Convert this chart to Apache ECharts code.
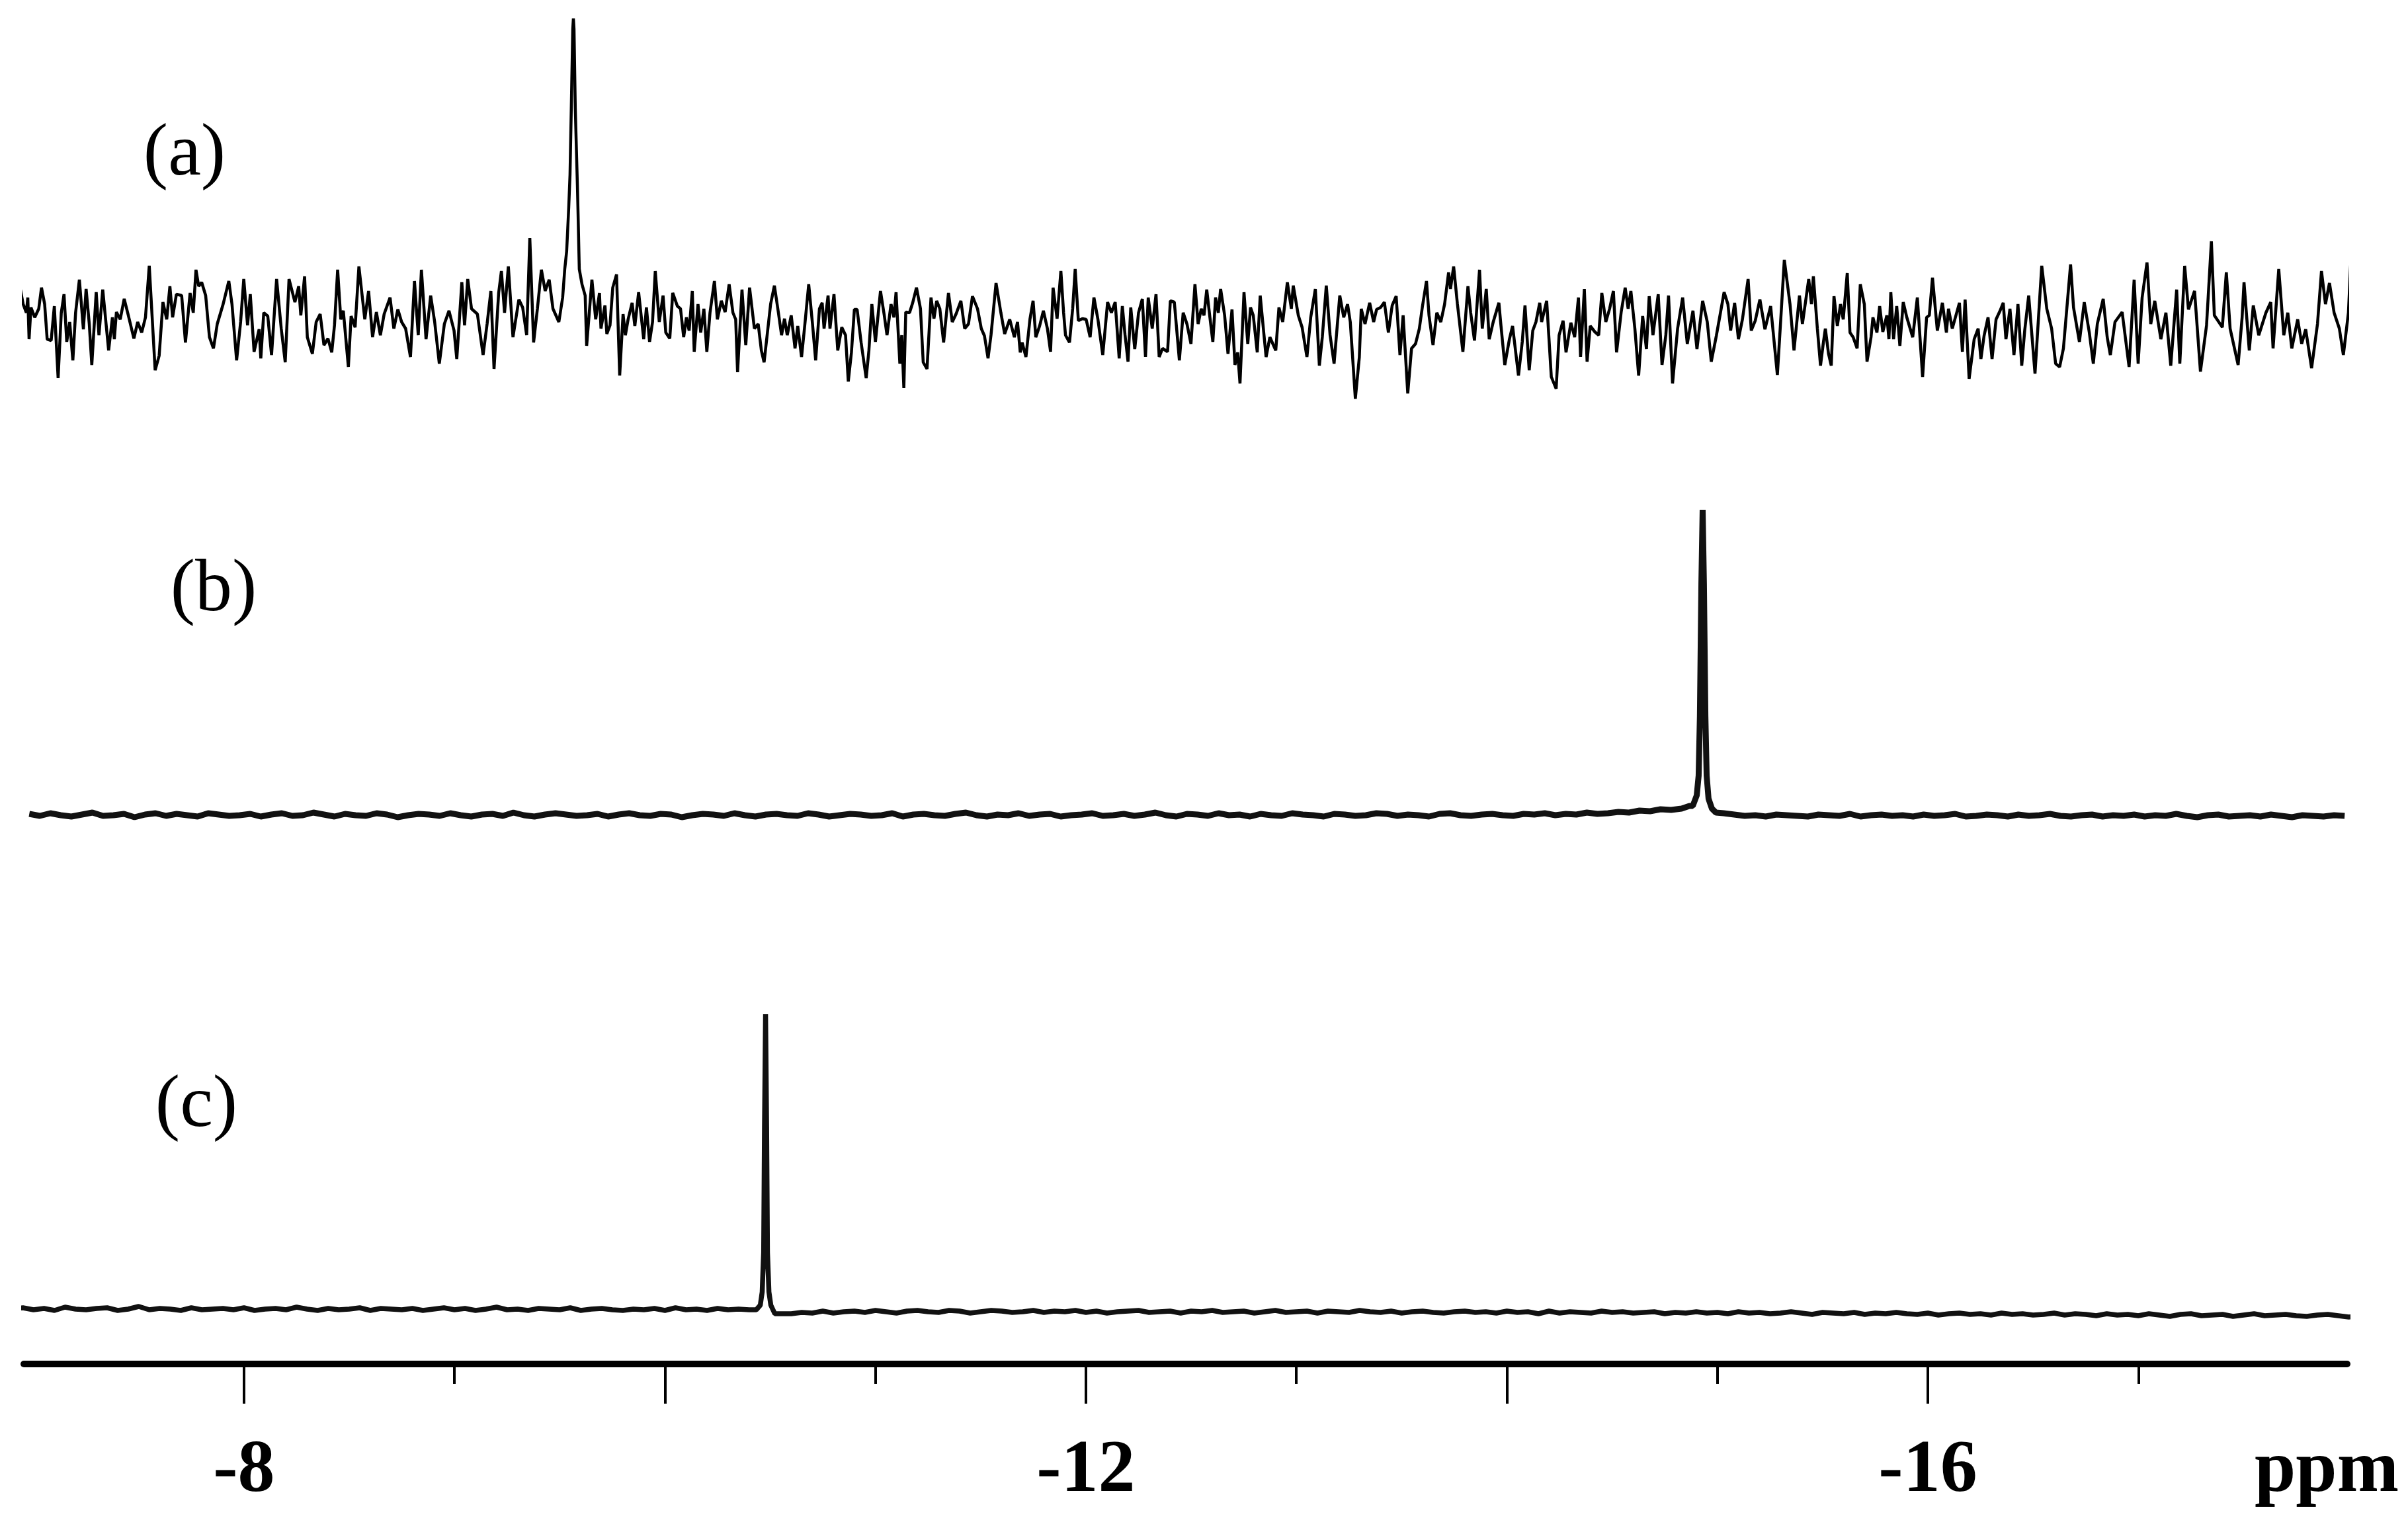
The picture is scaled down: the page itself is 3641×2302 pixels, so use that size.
<!DOCTYPE html>
<html>
<head>
<meta charset="utf-8">
<script src="https://cdn.jsdelivr.net/npm/echarts@6/dist/echarts.min.js"></script>
<style>
html,body{margin:0;padding:0;background:#fff;}
#chart{width:3641px;height:2302px;}
</style>
</head>
<body>
<div id="chart"></div>
<script>
// ---------- axis ----------
const axisMin = -17.992, axisMax = -6.954;          // ppm range of the drawn axis (reversed)
const majorTicks = [-16, -14, -12, -10, -8];
const minorTicks = [-17, -15, -13, -11, -9];
const tickLabels = [-16, -12, -8];
const axisName = 'ppm';
const panelLabels = ['(a)', '(b)', '(c)'];

// ---------- trace (a): [ppm, intensity] ----------
const traceA = [
[-6.896,-56],[-6.905,21],[-6.924,-3],[-6.936,29],[-6.951,4],[-6.966,-9],[-6.973,14],[-6.979,-49],[-6.988,-1],[-7.006,-16],[-7.025,-3],[-7.038,29],[-7.053,4],[-7.065,-49],[-7.084,-51],[-7.099,1],[-7.117,-108],[-7.132,-9],[-7.145,19],[-7.158,-53],[-7.172,-23],[-7.187,-81],[-7.200,-9],[-7.218,41],[-7.237,-34],[-7.250,27],[-7.265,-26],[-7.277,-88],[-7.298,22],[-7.311,-43],[-7.329,26],[-7.357,-66],[-7.375,-16],[-7.384,-49],[-7.394,-8],[-7.412,-19],[-7.431,12],[-7.449,-11],[-7.477,-48],[-7.495,-23],[-7.514,-39],[-7.532,-16],[-7.550,62],[-7.578,-96],[-7.597,-74],[-7.615,7],[-7.633,-19],[-7.648,31],[-7.661,-16],[-7.679,19],[-7.704,17],[-7.722,-54],[-7.744,21],[-7.759,-9],[-7.772,56],[-7.785,31],[-7.799,37],[-7.818,17],[-7.836,-46],[-7.855,-63],[-7.873,-26],[-7.901,4],[-7.928,39],[-7.943,4],[-7.965,-81],[-7.984,-23],[-7.999,42],[-8.017,-28],[-8.030,19],[-8.048,-68],[-8.072,-34],[-8.080,-78],[-8.094,-9],[-8.113,-14],[-8.131,-73],[-8.155,42],[-8.177,-33],[-8.196,-84],[-8.214,42],[-8.242,7],[-8.260,31],[-8.270,-13],[-8.288,46],[-8.301,-46],[-8.325,-71],[-8.343,-23],[-8.362,-11],[-8.380,-58],[-8.399,-48],[-8.417,-69],[-8.430,-28],[-8.445,56],[-8.460,-19],[-8.472,-6],[-8.496,-91],[-8.509,-14],[-8.528,-31],[-8.546,61],[-8.574,-19],[-8.592,24],[-8.611,-46],[-8.629,-8],[-8.648,-43],[-8.666,-11],[-8.694,14],[-8.712,-33],[-8.731,-4],[-8.749,-23],[-8.768,-33],[-8.791,-76],[-8.810,39],[-8.828,-43],[-8.843,56],[-8.865,-49],[-8.887,17],[-8.906,-23],[-8.928,-86],[-8.952,-26],[-8.974,-6],[-8.998,-36],[-9.011,-79],[-9.035,37],[-9.048,-28],[-9.063,42],[-9.081,-3],[-9.109,-11],[-9.136,-73],[-9.155,-26],[-9.173,24],[-9.188,-94],[-9.210,21],[-9.223,54],[-9.238,-9],[-9.256,61],[-9.278,-46],[-9.306,11],[-9.324,-1],[-9.343,-43],[-9.358,104],[-9.376,-54],[-9.394,-3],[-9.413,56],[-9.431,24],[-9.450,41],[-9.468,-3],[-9.496,-23],[-9.514,14],
[-9.524,57],[-9.533,84],[-9.543,151],[-9.549,200],[-9.555,300],[-9.562,420],[-9.565,436],[-9.568,420],[-9.574,300],[-9.584,184],[-9.587,144],[-9.593,57],[-9.606,34],[-9.621,17],[-9.628,-59],
[-9.653,41],[-9.671,-19],[-9.689,21],
[-9.696,-33],[-9.715,2],[-9.724,-41],[-9.739,-28],[-9.752,29],[-9.770,49],[-9.785,-104],[-9.801,-11],[-9.812,-43],[-9.825,-19],[-9.844,6],[-9.857,-29],[-9.875,22],[-9.899,-49],[-9.912,-1],[-9.927,-53],[-9.941,-23],[-9.954,54],[-9.973,-23],[-9.991,17],[-10.004,-39],[-10.023,-48],[-10.037,21],[-10.059,1],[-10.074,-3],[-10.089,-46],[-10.102,-16],[-10.115,-36],[-10.130,24],[-10.139,-68],[-10.157,4],[-10.170,-39],[-10.185,-3],[-10.199,-68],[-10.214,-9],[-10.235,39],[-10.249,-19],[-10.268,9],[-10.286,-8],[-10.305,34],[-10.323,-9],[-10.336,-19],[-10.345,-99],[-10.366,26],[-10.384,-58],[-10.402,29],[-10.425,-33],[-10.443,-26],[-10.458,-66],[-10.471,-84],[-10.489,-33],[-10.502,4],[-10.520,32],[-10.539,-9],[-10.554,-43],[-10.568,-18],[-10.581,-43],[-10.600,-13],[-10.618,-63],[-10.631,-29],[-10.649,-76],[-10.664,-29],[-10.683,34],[-10.701,-26],[-10.716,-81],[-10.734,-3],[-10.747,6],[-10.756,-33],[-10.775,17],[-10.784,-33],[-10.803,19],[-10.821,-66],[-10.840,-31],[-10.858,-43],[-10.871,-113],[-10.886,-69],[-10.900,-4],[-10.913,-4],[-10.932,-54],[-10.956,-108],[-10.969,-66],[-10.983,4],[-11.000,-53],[-11.024,24],[-11.042,-13],[-11.055,-43],[-11.074,4],[-11.088,-16],[-11.098,22],[-11.116,-86],[-11.125,-43],[-11.135,-123],[-11.144,-8],[-11.162,-9],[-11.177,6],[-11.195,29],[-11.214,-3],[-11.227,-84],[-11.245,-94],[-11.264,14],[-11.278,-18],[-11.291,9],[-11.306,-3],[-11.324,-54],[-11.347,21],[-11.365,-23],[-11.383,-11],[-11.406,9],[-11.424,-33],[-11.442,-26],[-11.461,16],[-11.485,-3],[-11.503,-33],[-11.518,-44],[-11.535,-78],[-11.549,-43],[-11.573,36],[-11.596,-9],[-11.614,-41],[-11.638,-19],[-11.660,-46],[-11.675,-23],[-11.688,-69],[-11.697,-54],[-11.715,-76],[-11.734,-19],[-11.749,9],[-11.762,-46],[-11.780,-29],[-11.798,-6],[-11.817,-33],[-11.832,-68],[-11.844,29],[-11.863,-18],[-11.881,54],[-11.894,-9],[-11.903,-43],[-11.922,-54],[-11.937,-3],[-11.949,57],[-11.964,-21],[-11.983,-18],[-12.001,-19],[-12.020,-46],[-12.038,14],[-12.057,-19],[-12.080,-73],[-12.103,7],[-12.121,-9],[-12.139,7],[-12.158,-78],[-12.173,1],[-12.186,-43],[-12.200,-83],[-12.213,-1],[-12.232,-64],[-12.250,-9],[-12.268,12],[-12.283,-76],[-12.296,14],[-12.315,-33],[-12.333,19],[-12.348,-76],[-12.364,-63],[-12.388,-68],[-12.401,9],[-12.420,7],[-12.444,-81],[-12.462,-9],[-12.480,-26],[-12.499,-56],[-12.518,34],
[-12.533,-26],[-12.548,-3],[-12.561,-13],[-12.574,26],[-12.589,-16],[-12.603,-53],[-12.616,14],[-12.629,-9],[-12.640,27],[-12.659,-13],[-12.675,-71],[-12.694,-4],[-12.708,-88],[-12.721,-69],[-12.732,-116],[-12.751,22],[-12.769,-56],[-12.782,-1],[-12.795,-13],[-12.814,-69],[-12.828,17],[-12.856,-76],[-12.874,-46],[-12.902,-66],[-12.917,-1],[-12.935,-23],[-12.957,37],[-12.976,-3],[-12.985,32],[-13.009,-13],[-13.027,-31],[-13.050,-76],[-13.068,-16],[-13.090,27],[-13.109,-89],[-13.123,-46],[-13.142,32],[-13.160,-43],[-13.179,-86],[-13.206,17],[-13.225,-16],[-13.243,4],[-13.256,-23],[-13.280,-139],[-13.299,-76],[-13.308,-3],[-13.326,-26],[-13.348,6],[-13.367,-23],[-13.381,-4],[-13.400,-1],[-13.418,7],[-13.437,-39],[-13.455,2],[-13.474,16],[-13.492,-73],[-13.507,-13],[-13.529,-131],[-13.547,-63],[-13.566,-56],[-13.584,-33],[-13.599,1],[-13.618,39],[-13.630,-13],[-13.649,-58],[-13.667,-9],[-13.686,-23],[-13.704,4],[-13.723,52],[-13.732,27],[-13.747,61],[-13.765,4],[-13.791,-68],[-13.815,31],[-13.828,-9],[-13.846,-51],[-13.870,56],[-13.883,-33],[-13.902,27],[-13.916,-49],[-13.935,-23],[-13.962,6],[-13.972,-29],[-13.990,-88],[-14.012,-49],[-14.027,-29],[-14.055,-104],[-14.073,-53],[-14.086,2],[-14.106,-96],[-14.123,-36],[-14.138,-23],[-14.156,6],[-14.165,-23],[-14.189,9],[-14.211,-106],[-14.234,-124],[-14.248,-43],[-14.267,-21],[-14.281,-69],[-14.304,-24],[-14.322,-46],[-14.340,14],[-14.350,-76],[-14.368,27],[-14.381,-83],[-14.396,-29],[-14.418,-38],[-14.436,-43],[-14.451,21],[-14.470,-23],[-14.488,-3],[-14.506,24],[-14.521,-69],[-14.543,-8],[-14.562,29],[-14.576,-3],[-14.589,24],[-14.608,-33],[-14.626,-104],[-14.645,-14],[-14.663,-64],[-14.676,16],[-14.694,-43],[-14.719,19],[-14.737,-88],[-14.755,-43],[-14.768,17],[-14.787,-116],[-14.811,-33],[-14.835,14],[-14.857,-56],[-14.884,-6],[-14.903,-64],[-14.930,9],[-14.952,-23],[-14.971,-83],[-14.995,-44],[-15.032,22],[-15.050,4],[-15.063,-36],[-15.082,6],[-15.100,-49],[-15.119,-19],[-15.146,42],[-15.161,-36],[-15.180,-21],[-15.202,11],[-15.226,-34],[-15.253,1],[-15.285,-103],[-15.303,-9],[-15.318,71],[-15.345,4],[-15.364,-66],
[-15.390,17],[-15.404,-26],[-15.434,42],[-15.447,4],[-15.456,46],[-15.475,-33],[-15.490,-89],[-15.504,-53],[-15.513,-33],[-15.528,-71],[-15.541,-89],[-15.554,16],[-15.570,-29],[-15.585,4],[-15.598,-19],[-15.617,51],[-15.630,-39],[-15.645,-46],[-15.664,-63],[-15.679,34],[-15.698,4],[-15.711,-83],[-15.730,-46],[-15.739,-16],[-15.758,-39],[-15.771,1],[-15.786,-38],[-15.805,-13],[-15.815,-49],[-15.824,22],[-15.837,-49],[-15.852,1],[-15.867,-59],[-15.883,7],[-15.900,-16],[-15.928,-46],[-15.950,14],[-15.975,-106],[-15.994,-16],[-16.007,-13],[-16.022,44],[-16.045,-36],[-16.069,6],[-16.088,-39],[-16.098,-3],[-16.116,-33],[-16.150,6],[-16.164,-68],[-16.177,11],[-16.196,-109],[-16.220,-49],[-16.239,-33],[-16.252,-79],[-16.267,-44],[-16.286,-16],[-16.305,-79],[-16.324,-19],[-16.343,-6],[-16.358,6],[-16.371,-49],[-16.390,-3],[-16.409,-73],[-16.428,4],[-16.446,-89],[-16.460,-36],[-16.479,17],[-16.509,-101],[-16.541,62],[-16.565,-3],[-16.588,-33],[-16.607,-86],[-16.626,-91],[-16.644,-63],[-16.678,64],[-16.692,-1],[-16.720,-53],[-16.743,7],[-16.767,-39],[-16.786,-86],[-16.805,-26],[-16.833,12],[-16.852,-46],[-16.867,-73],[-16.889,-23],[-16.923,-8],[-16.956,-91],[-16.980,41],[-16.999,-86],[-17.018,14],[-17.041,67],[-17.059,-26],[-17.078,9],[-17.107,-49],[-17.131,-9],[-17.154,-89],[-17.182,26],[-17.197,-86],[-17.220,62],[-17.238,-4],[-17.267,24],[-17.295,-98],[-17.324,-28],[-17.347,99],[-17.361,-13],[-17.399,-31],[-17.418,52],[-17.436,-33],[-17.474,-88],[-17.493,-16],[-17.502,37],[-17.527,-66],[-17.546,2],[-17.572,-43],[-17.606,-9],[-17.629,7],[-17.640,-63],[-17.667,57],[-17.691,-43],[-17.710,-9],[-17.729,-63],[-17.757,-19],[-17.776,-56],[-17.795,-34],[-17.823,-93],[-17.851,-26],[-17.870,54],[-17.889,4],[-17.908,36],[-17.930,-9],[-17.955,-33],[-17.974,-73],[-17.998,-9],[-18.011,81],[-18.021,-46],[-18.030,-28]
];

// ---------- trace (b): uniformly sampled baseline noise + peak ----------
const startB = -6.98, stepB = 0.05;
const noiseB = [
2,-1,3,0,-2,1,4,-1,0,2,-3,1,3,-1,2,0,-2,3,1,-1,
0,2,-2,1,3,-1,0,4,1,-2,2,0,-1,3,1,-3,0,2,1,-1,
3,0,-2,1,2,-1,4,0,-2,1,3,1,-1,0,2,-2,1,3,0,-1,
2,1,-3,0,2,1,-1,3,0,-2,1,2,0,-1,3,1,-2,0,2,1,
-1,0,3,-2,1,2,0,-1,2,4,0,-2,1,0,3,-1,1,2,-2,0,
1,3,-1,0,2,-1,1,4,0,-2,2,1,-1,3,0,1,-2,2,0,-1,
3,1,0,-2,2,1,-1,0,3,2,-1,1,0,-2,2,3,0,-1,1,2,
0,-1,2,1,3,0,2,1,4,2,3,5,4,7,6,9,8,10,12,0,
6,3,1,-1,0,-2,1,0,-1,-2,1,0,-1,2,-2,0,1,-1,0,-2,
1,-1,0,2,-2,-1,1,0,-2,1,-1,0,2,-1,-2,0,1,-2,0,-1,
1,-2,0,-1,2,-1,-3,0,1,-2,-1,0,-2,1,-1,-3,0,-1,-2,0,-1
];
const centerB = -14.930;
const peakB = [[-14.867,14],[-14.883,14],[-14.902,30],[-14.911,60],[-14.917,150],[-14.924,350],[-14.930,462],[-14.936,350],[-14.943,150],[-14.949,60],[-14.958,25],[-14.974,10],[-14.993,4]];

// ---------- trace (c): uniformly sampled baseline noise + peak ----------
const startC = -6.90, stepC = 0.05;
const noiseC = [
4,6,3,5,2,7,4,3,5,6,2,4,8,3,5,4,2,6,3,4,
5,3,6,2,4,5,3,7,4,2,5,3,4,6,2,5,4,3,5,2,
4,6,3,5,2,4,7,3,4,2,5,4,3,6,2,4,5,3,2,4,
3,5,2,6,3,4,2,5,3,4,3,0,0,-3,-3,-1,-2,1,-2,0,
1,-1,2,0,-2,1,2,0,-1,2,1,-2,0,2,1,-1,0,2,-1,1,
0,2,-1,1,-2,0,1,2,-1,0,1,-2,1,0,2,-1,0,1,-2,0,
2,-1,0,1,-2,1,0,-1,2,0,-1,1,-2,0,1,-1,-2,0,1,-1,
0,-2,1,-1,0,-3,1,-2,0,-1,-2,1,-1,0,-2,-1,0,-3,-1,-2,
0,-2,-1,-3,0,-2,-1,-3,-2,0,-2,-4,-1,-2,-3,-1,-4,-2,-3,-1,
-3,-4,-2,-5,-3,-2,-4,-3,-5,-2,-4,-3,-5,-4,-2,-5,-3,-4,-6,-3,
-5,-4,-6,-3,-5,-7,-4,-3,-6,-5,-4,-7,-5,-3,-6,-5,-4,-6,-7,-5,-4,-6,-8,-7
];
const centerC = -10.478;
const peakC = [[-10.434,3],[-10.453,10],[-10.462,30],[-10.469,90],[-10.473,280],[-10.478,450],[-10.483,280],[-10.487,90],[-10.494,30],[-10.503,10],[-10.522,-3]];

function buildTrace(start, step, noise, peak, center, win) {
  const pts = noise.map((v, i) => [+(start - step * i).toFixed(3), v])
                   .filter(p => Math.abs(p[0] - center) >= win);
  return pts.concat(peak).sort((a, b) => b[0] - a[0]);
}
const dataB = buildTrace(startB, stepB, noiseB, peakB, centerB, 0.065);
const dataC = buildTrace(startC, stepC, noiseC, peakC, centerC, 0.05);

// ---------- chart ----------
const chart = echarts.init(document.getElementById('chart'), null, {renderer: 'canvas'});
const W = 3641, H = 2302;
const gL = 36, gR = 92;
const serif = 'Liberation Serif';

const hiddenX = (gi) => ({type: 'value', gridIndex: gi, min: axisMin, max: axisMax, inverse: true, show: false});
const hiddenY = (gi, mn, mx) => ({type: 'value', gridIndex: gi, min: mn, max: mx, show: false});

const option = {
  backgroundColor: '#ffffff',
  animation: false,
  textStyle: {fontFamily: serif},
  grid: [
    {left: gL, right: gR, top: 0, height: 600, containLabel: false, outerBoundsMode: 'none'},
    {left: gL, right: gR, top: 700, height: 600, containLabel: false, outerBoundsMode: 'none'},
    {left: gL, right: gR, top: 1400, height: 600, containLabel: false, outerBoundsMode: 'none'},
    {left: gL, right: gR, top: 1900, bottom: H - 2063, containLabel: false, outerBoundsMode: 'none'},
    {left: gL, right: gR, top: 1900, bottom: H - 2063, containLabel: false, outerBoundsMode: 'none'}
  ],
  xAxis: [
    hiddenX(0), hiddenX(1), hiddenX(2),
    {
      type: 'value', gridIndex: 3, min: axisMin, max: axisMax, inverse: true, position: 'bottom',
      axisLine: {show: true, lineStyle: {color: '#000', width: 10}},
      axisTick: {show: true, customValues: majorTicks, length: 60, lineStyle: {color: '#000', width: 4}},
      axisLabel: {
        show: true, customValues: tickLabels, margin: 107,
        formatter: v => String(v),
        color: '#000', fontSize: 112, fontWeight: 'bold', fontFamily: serif, lineHeight: 112
      },
      splitLine: {show: false}
    },
    {
      type: 'value', gridIndex: 4, min: axisMin, max: axisMax, inverse: true, position: 'bottom',
      axisLine: {show: false},
      axisTick: {show: true, customValues: minorTicks, length: 30, lineStyle: {color: '#000', width: 4}},
      axisLabel: {show: false},
      splitLine: {show: false}
    }
  ],
  yAxis: [
    hiddenY(0, -136, 464),
    hiddenY(1, -67, 533),
    hiddenY(2, -16, 584),
    hiddenY(3, 0, 1),
    hiddenY(4, 0, 1)
  ],
  series: [
    {type: 'line', name: panelLabels[0], xAxisIndex: 0, yAxisIndex: 0, data: traceA, showSymbol: false, clip: false,
     lineStyle: {color: '#000', width: 4.5}, silent: true},
    {type: 'line', name: panelLabels[1], xAxisIndex: 1, yAxisIndex: 1, data: dataB, showSymbol: false, clip: false,
     lineStyle: {color: '#111', width: 9}, silent: true},
    {type: 'line', name: panelLabels[2], xAxisIndex: 2, yAxisIndex: 2, data: dataC, showSymbol: false, clip: false,
     lineStyle: {color: '#111', width: 7.5}, silent: true}
  ],
  graphic: [
    {type: 'text', x: 279, y: 235, style: {text: panelLabels[0], fontSize: 112, fontFamily: serif, fill: '#000', align: 'center', verticalAlign: 'middle'}},
    {type: 'text', x: 323, y: 894, style: {text: panelLabels[1], fontSize: 112, fontFamily: serif, fill: '#000', align: 'center', verticalAlign: 'middle'}},
    {type: 'text', x: 297, y: 1674, style: {text: panelLabels[2], fontSize: 112, fontFamily: serif, fill: '#000', align: 'center', verticalAlign: 'middle'}},
    {type: 'text', x: 3518, y: 2226, style: {text: axisName, fontSize: 112, fontWeight: 'bold', fontFamily: serif, fill: '#000', align: 'center', verticalAlign: 'middle'}}
  ]
};
chart.setOption(option);
</script>
</body>
</html>
